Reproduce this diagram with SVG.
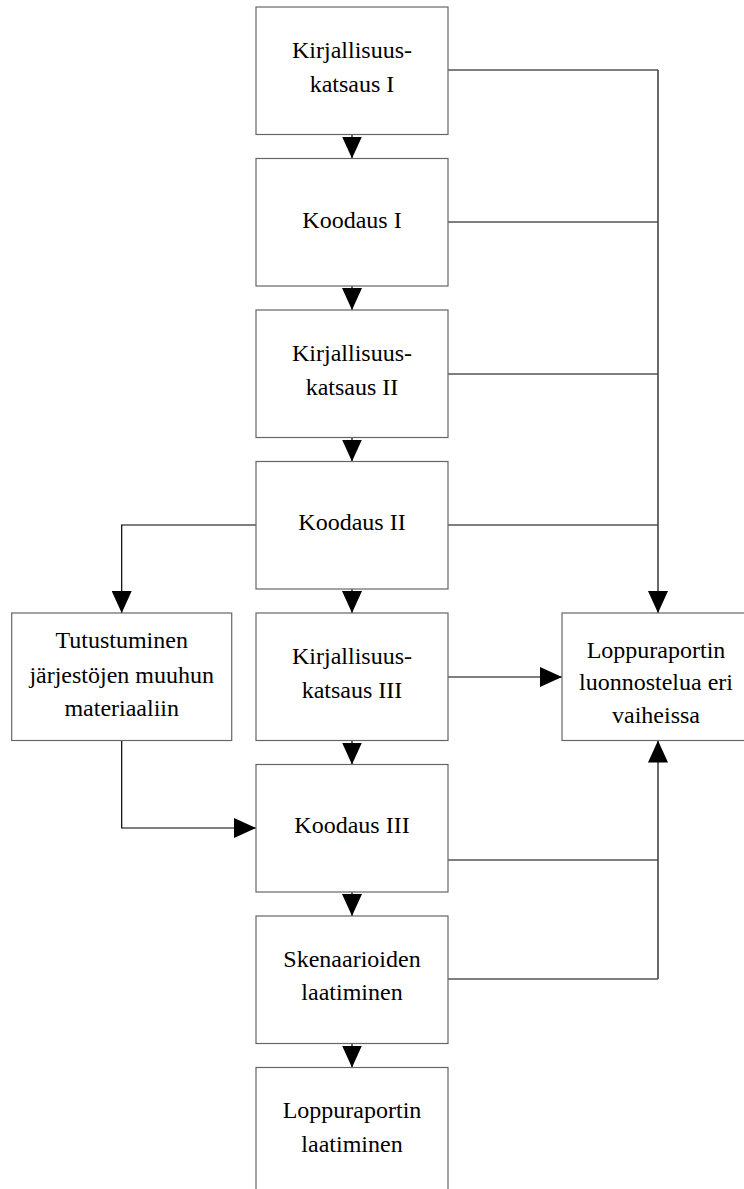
<svg xmlns="http://www.w3.org/2000/svg" width="744" height="1189" viewBox="0 0 744 1189">
<style>
.box{fill:#fff;stroke:#666;stroke-width:1.2}
.lbl{font-size:24px;fill:#000;text-anchor:middle}
.c{fill:none;stroke:#000;stroke-width:1.2}
.v{fill:none;stroke:#444;stroke-width:1.6}
</style>
<defs>
<marker id="ah" markerUnits="userSpaceOnUse" viewBox="0 0 22 20" markerWidth="22" markerHeight="20" refX="22" refY="10" orient="auto">
<path d="M0,0 L22,10 L0,20 z" fill="#000"/>
</marker>
</defs>
<rect width="744" height="1189" fill="#fff"/>
<g id="connectors">
<line class="c" x1="352" y1="134.5" x2="352" y2="158.5" marker-end="url(#ah)"/>
<line class="c" x1="352" y1="286" x2="352" y2="310" marker-end="url(#ah)"/>
<line class="c" x1="352" y1="437.5" x2="352" y2="461.5" marker-end="url(#ah)"/>
<line class="c" x1="352" y1="589" x2="352" y2="613" marker-end="url(#ah)"/>
<line class="c" x1="352" y1="740.5" x2="352" y2="764.5" marker-end="url(#ah)"/>
<line class="c" x1="352" y1="892" x2="352" y2="916" marker-end="url(#ah)"/>
<line class="c" x1="352" y1="1043.5" x2="352" y2="1067.5" marker-end="url(#ah)"/>
<line class="c" x1="448" y1="70" x2="658" y2="70"/>
<line class="c" x1="448" y1="222" x2="658" y2="222"/>
<line class="c" x1="448" y1="374" x2="658" y2="374"/>
<line class="c" x1="448" y1="525" x2="658" y2="525"/>
<line class="v" x1="658" y1="70" x2="658" y2="613" marker-end="url(#ah)"/>
<line class="c" x1="448" y1="677" x2="562" y2="677" marker-end="url(#ah)"/>
<line class="c" x1="448" y1="860" x2="658" y2="860"/>
<line class="c" x1="448" y1="979" x2="658" y2="979"/>
<line class="v" x1="658" y1="979" x2="658" y2="740.5" marker-end="url(#ah)"/>
<path class="c" d="M256,525 H121.7 V613" marker-end="url(#ah)"/>
<path class="c" d="M121.7,740.5 V828 H256" marker-end="url(#ah)"/>
</g>
<g font-family="'Liberation Serif', 'DejaVu Serif', serif">
<g id="n1"><rect class="box" x="256" y="7" width="192" height="127.5"/><text class="lbl" x="352" y="58">Kirjallisuus-</text><text class="lbl" x="352" y="92">katsaus I</text></g>
<g id="n2"><rect class="box" x="256" y="158.5" width="192" height="127.5"/><text class="lbl" x="352" y="228">Koodaus I</text></g>
<g id="n3"><rect class="box" x="256" y="310" width="192" height="127.5"/><text class="lbl" x="352" y="361">Kirjallisuus-</text><text class="lbl" x="352" y="395">katsaus II</text></g>
<g id="n4"><rect class="box" x="256" y="461.5" width="192" height="127.5"/><text class="lbl" x="352" y="529.5">Koodaus II</text></g>
<g id="n5"><rect class="box" x="256" y="613" width="192" height="127.5"/><text class="lbl" x="352" y="664">Kirjallisuus-</text><text class="lbl" x="352" y="698">katsaus III</text></g>
<g id="n6"><rect class="box" x="256" y="764.5" width="192" height="127.5"/><text class="lbl" x="352" y="832.5">Koodaus III</text></g>
<g id="n7"><rect class="box" x="256" y="916" width="192" height="127.5"/><text class="lbl" x="352" y="967">Skenaarioiden</text><text class="lbl" x="352" y="1000">laatiminen</text></g>
<g id="n8"><rect class="box" x="256" y="1067.5" width="192" height="127.5"/><text class="lbl" x="352" y="1118">Loppuraportin</text><text class="lbl" x="352" y="1152">laatiminen</text></g>
<g id="n9"><rect class="box" x="11.7" y="613" width="220" height="127.5"/><text class="lbl" x="121.7" y="648">Tutustuminen</text><text class="lbl" x="121.7" y="682.5">järjestöjen muuhun</text><text class="lbl" x="121.7" y="716">materiaaliin</text></g>
<g id="n10"><rect class="box" x="562" y="613" width="192" height="127.5"/><text class="lbl" x="656" y="657.5">Loppuraportin</text><text class="lbl" x="656" y="690">luonnostelua eri</text><text class="lbl" x="656" y="722.5">vaiheissa</text></g>
</g>
</svg>
